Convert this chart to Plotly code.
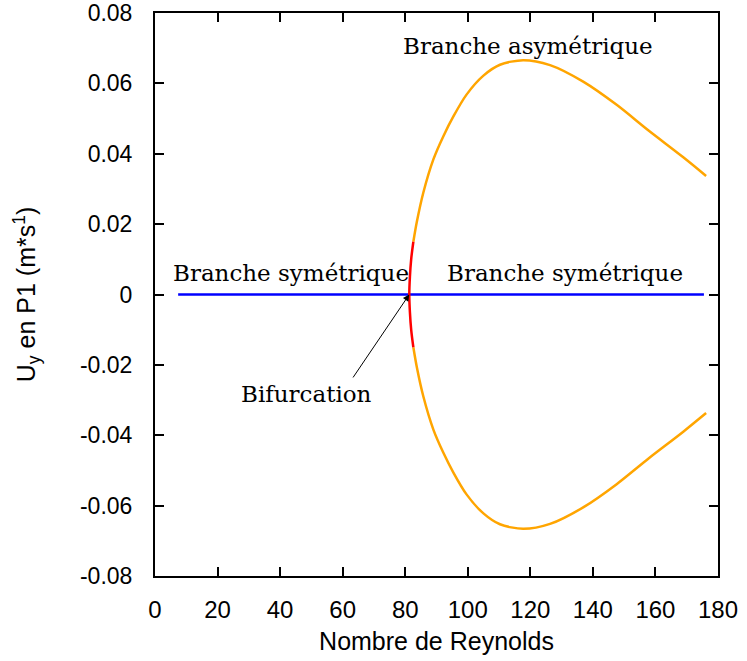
import plotly.graph_objects as go

# Symmetric branch
sym_x = [7.4, 81.3, 175.5]
sym_y = [0.0, 0.0, 0.0]

# Unstable (red) part near bifurcation, upper half
red_x = [81.3, 81.5, 81.9, 82.6]
red_y = [0.0, 0.005, 0.010, 0.015]

# Asymmetric branch (orange), upper half
asym_x = [82.6, 83.7, 85.8, 89.0, 92.2, 95.4, 99.6, 105.0, 110.3, 117.7, 126.3, 136.9, 147.6, 157.8, 168.9, 176.2]
asym_y = [0.015, 0.0206, 0.029, 0.0384, 0.045, 0.0506, 0.0568, 0.0622, 0.0653, 0.0666, 0.0652, 0.0605, 0.0539, 0.0466, 0.0390, 0.0337]

x_ticks = [0, 20, 40, 60, 80, 100, 120, 140, 160, 180]
y_ticks = [-0.08, -0.06, -0.04, -0.02, 0, 0.02, 0.04, 0.06, 0.08]
y_tick_labels = ["-0.08", "-0.06", "-0.04", "-0.02", "0", "0.02", "0.04", "0.06", "0.08"]

fig = go.Figure()

orange = "#FFA500"
for sgn in (1, -1):
    fig.add_trace(go.Scatter(x=asym_x, y=[sgn * v for v in asym_y], mode="lines",
                             line=dict(color=orange, width=2.5, shape="spline", smoothing=0.8),
                             showlegend=False, hoverinfo="skip"))
fig.add_trace(go.Scatter(x=sym_x, y=sym_y, mode="lines",
                         line=dict(color="#0000FF", width=2.5), showlegend=False))
red_full_x = list(reversed(red_x)) + red_x[1:]
red_full_y = [-v for v in reversed(red_y)] + red_y[1:]
fig.add_trace(go.Scatter(x=red_full_x, y=red_full_y, mode="lines",
                         line=dict(color="#FF0000", width=2.5, shape="spline"),
                         showlegend=False))

serif = dict(family="DejaVu Serif, Liberation Serif, serif", size=23, color="#000000")
fig.add_annotation(x=43.5, y=0.0062, text="Branche symétrique", showarrow=False, font=serif)
fig.add_annotation(x=131.1, y=0.0062, text="Branche symétrique", showarrow=False, font=serif)
fig.add_annotation(x=119.1, y=0.0707, text="Branche asymétrique", showarrow=False, font=serif)
fig.add_annotation(x=48.4, y=-0.0283, text="Bifurcation", showarrow=False, font=serif)
fig.add_annotation(x=81.3, y=0.0, ax=63.0, ay=-0.024, axref="x", ayref="y",
                   text="", showarrow=True, arrowhead=2, arrowsize=1.3, arrowwidth=1,
                   arrowcolor="#000000", standoff=0)

sans = "Liberation Sans, Arial, sans-serif"
axis_common = dict(showgrid=False, zeroline=False, showline=True, linecolor="#000000",
                   linewidth=2, mirror="ticks", ticks="inside", ticklen=9, tickwidth=1.5,
                   tickcolor="#000000", automargin=False, ticklabeloverflow="allow",
                   title_font=dict(family=sans, size=25, color="#000000"))

fig.update_xaxes(range=[0, 180], tickvals=x_ticks, title_text="Nombre de Reynolds",
                 title_standoff=11, ticklabelstandoff=11,
                 tickfont=dict(family=sans, size=24, color="#000000"), **axis_common)
fig.update_yaxes(range=[-0.08, 0.08], tickvals=y_ticks, ticktext=y_tick_labels,
                 title_text="U<sub>y</sub> en P1 (m*s<sup>1</sup>)", title_standoff=37,
                 ticklabelstandoff=16,
                 tickfont=dict(family=sans, size=23, color="#000000"), **axis_common)

fig.update_layout(width=747, height=661, plot_bgcolor="#FFFFFF", paper_bgcolor="#FFFFFF",
                  margin=dict(l=155, r=29, t=13, b=85))

fig.write_html("out.html", config={"displayModeBar": False},
               post_script="document.body.style.margin='0';document.body.style.overflow='hidden';")
